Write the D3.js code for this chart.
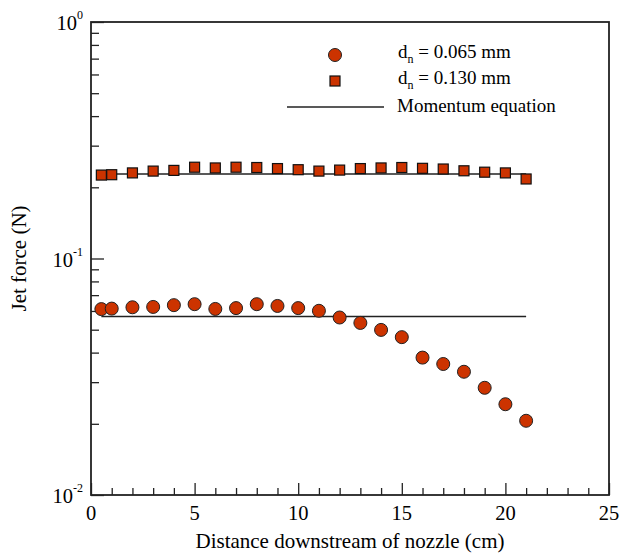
<!DOCTYPE html>
<html>
<head>
<meta charset="utf-8">
<script src="https://cdn.jsdelivr.net/npm/d3@7"></script>
<style>
  body { margin: 0; background: #fff; }
  svg { display: block; font-family: 'Liberation Serif', 'Times New Roman', serif; }
</style>
</head>
<body>
<div id="chart"></div>
<script>
const distance = [0.5, 1, 2, 3, 4, 5, 6, 7, 8, 9, 10, 11, 12, 13, 14, 15, 16, 17, 18, 19, 20, 21];
const force065 = [0.0611, 0.0614, 0.0622, 0.0624, 0.0635, 0.0641, 0.0612, 0.0617, 0.0641, 0.0630, 0.0617,
  0.0601, 0.0563, 0.0534, 0.0499, 0.0465, 0.0381, 0.0358, 0.0332, 0.0284, 0.0242, 0.0206];
const force130 = [0.2253, 0.2261, 0.2301, 0.2342, 0.2358, 0.2432, 0.2415, 0.2432, 0.2425, 0.2400, 0.2374,
  0.2342, 0.2365, 0.2400, 0.2415, 0.2425, 0.2406, 0.2390, 0.2349, 0.2317, 0.2301, 0.2169];
const momentumX = [0.5, 21];
const momentum065 = [0.0568, 0.0568];
const momentum130 = [0.2275, 0.2275];
const xTicks = [0, 5, 10, 15, 20, 25];
const yTicks = [0.01, 0.1, 1];
const yExponents = ['-2', '-1', '0'];
const legendLabels = ['0.065 mm', '0.130 mm', 'Momentum equation'];

const W = 620, H = 553;
const margin = { top: 22, right: 11, bottom: 58, left: 91 },
  width = W - margin.left - margin.right,
  height = H - margin.top - margin.bottom;
const markFill = '#cc3300';

const x = d3.scaleLinear().domain([0, 25]).range([0, width]);
const y = d3.scaleLog().domain([0.01, 1]).range([height, 0]);

const svg = d3.select('#chart').append('svg').attr('width', W).attr('height', H);
const chart = svg.append('g').attr('transform', 'translate(' + margin.left + ',' + margin.top + ')');

// ticks point inward, minor every 1 cm
const xMinor = d3.range(0, 26).filter(function(d) { return d % 5 !== 0; });
chart.append('g').attr('transform', 'translate(0,' + height + ')')
  .call(d3.axisTop(x).tickValues(xMinor).tickSize(7).tickFormat(''))
  .call(function(g) { g.select('.domain').remove(); g.selectAll('line').attr('stroke', '#222').attr('stroke-width', 1.3); });
chart.append('g').attr('transform', 'translate(0,' + height + ')')
  .call(d3.axisTop(x).tickValues(xTicks).tickSize(12).tickFormat(''))
  .call(function(g) { g.select('.domain').remove(); g.selectAll('line').attr('stroke', '#222').attr('stroke-width', 1.3); });

chart.selectAll('.xlabel').data(xTicks).enter().append('text')
  .attr('class', 'xlabel')
  .attr('x', function(d) { return x(d); })
  .attr('y', height + 25)
  .attr('text-anchor', 'middle')
  .style('font-size', '20.5px')
  .text(function(d) { return d; });

const yMinor = [];
[0.01, 0.1].forEach(function(b) { for (let k = 2; k <= 9; k++) yMinor.push(b * k); });
chart.append('g')
  .call(d3.axisRight(y).tickValues(yMinor).tickSize(8).tickFormat(''))
  .call(function(g) { g.select('.domain').remove(); g.selectAll('line').attr('stroke', '#222').attr('stroke-width', 1.3); });
chart.append('g')
  .call(d3.axisRight(y).tickValues(yTicks).tickSize(13).tickFormat(''))
  .call(function(g) { g.select('.domain').remove(); g.selectAll('line').attr('stroke', '#222').attr('stroke-width', 1.3); });

const ylab = chart.selectAll('.ylabel').data(yTicks).enter().append('text')
  .attr('class', 'ylabel')
  .attr('x', -8)
  .attr('y', function(d) { return y(d) + 8; })
  .attr('text-anchor', 'end')
  .style('font-size', '20.5px');
ylab.append('tspan').text('10');
ylab.append('tspan').attr('dy', -11).style('font-size', '12px').text(function(d, i) { return yExponents[i]; });

chart.append('rect')
  .attr('width', width).attr('height', height)
  .attr('fill', 'none').attr('stroke', '#222').attr('stroke-width', 1.8);

const line = d3.line()
  .x(function(d) { return x(d[0]); })
  .y(function(d) { return y(d[1]); });
[momentum065, momentum130].forEach(function(s) {
  chart.append('path')
    .datum(momentumX.map(function(v, i) { return [v, s[i]]; }))
    .attr('d', line)
    .attr('fill', 'none').attr('stroke', '#222').attr('stroke-width', 1.5);
});

chart.selectAll('.sq').data(distance).enter().append('rect')
  .attr('class', 'sq')
  .attr('x', function(d) { return x(d) - 5; })
  .attr('y', function(d, i) { return y(force130[i]) - 5; })
  .attr('width', 10).attr('height', 10)
  .attr('fill', markFill).attr('stroke', '#111').attr('stroke-width', 1.2);

chart.selectAll('.dot').data(distance).enter().append('circle')
  .attr('class', 'dot')
  .attr('cx', function(d) { return x(d); })
  .attr('cy', function(d, i) { return y(force065[i]); })
  .attr('r', 6.5)
  .attr('fill', markFill).attr('stroke', '#222').attr('stroke-width', 1);

// legend
const legend = svg.append('g');
legend.append('circle').attr('cx', 335).attr('cy', 55).attr('r', 6.5)
  .attr('fill', markFill).attr('stroke', '#222').attr('stroke-width', 1);
legend.append('rect').attr('x', 330).attr('y', 76).attr('width', 10).attr('height', 10)
  .attr('fill', markFill).attr('stroke', '#111').attr('stroke-width', 1.2);
legend.append('line').attr('x1', 287).attr('x2', 384).attr('y1', 107).attr('y2', 107)
  .attr('stroke', '#222').attr('stroke-width', 1.3);
[58, 84].forEach(function(yy, i) {
  const t = legend.append('text').attr('x', 398).attr('y', yy).style('font-size', '19px');
  t.append('tspan').text('d');
  t.append('tspan').attr('dy', 5).style('font-size', '12px').text('n');
  t.append('tspan').attr('dy', -5).text(' = ' + legendLabels[i]);
});
legend.append('text').attr('x', 397).attr('y', 112).style('font-size', '19px').text(legendLabels[2]);

// axis titles
svg.append('text')
  .attr('x', margin.left + width / 2).attr('y', 548)
  .attr('text-anchor', 'middle').style('font-size', '21px')
  .text('Distance downstream of nozzle (cm)');
svg.append('text')
  .attr('transform', 'translate(26,' + (margin.top + height / 2) + ') rotate(-90)')
  .attr('text-anchor', 'middle').style('font-size', '21px')
  .text('Jet force (N)');
</script>
</body>
</html>
